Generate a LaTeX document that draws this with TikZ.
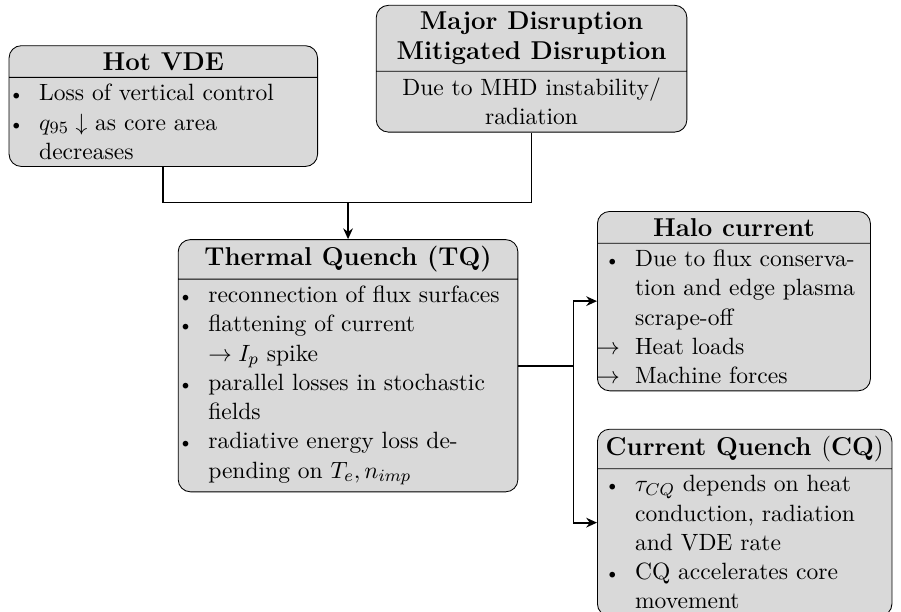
\documentclass[tikz,border=0pt,11pt]{standalone}
\usepackage{amsmath}
\usepackage{enumitem}
\usetikzlibrary{shapes.multipart,arrows.meta}

\hyphenation{de-pending}
% ragged right items that still hyphenate
\setlist[itemize]{nosep, leftmargin=10.5pt, labelsep=7pt, label={\footnotesize\textbullet},
    before={\rightskip=0pt plus 2em\spaceskip=.3333em\relax}}

\newcommand{\boxtext}[2]{\begin{minipage}[t]{#1}#2\end{minipage}}

\begin{document}
\begin{tikzpicture}[thick,
    main/.style = {draw, thin, fill=black!15, rounded corners=2mm,
        rectangle split, rectangle split parts=2,
        inner xsep=3.5pt, inner ysep=3pt, align=center},
    flow/.style = {-{Stealth[length=5pt, width=4.5pt]}}]
    \useasboundingbox (0,0) rectangle (14.73,-10.00);

    %what starts it

    \node[main, anchor=north] (HOTVDE) at (2.67,-0.74)
        {\large\bfseries Hot VDE
         \nodepart{two}\boxtext{136.5pt}{\begin{itemize}
            \item Loss of vertical control
            \item $q_{95}\downarrow$ as core area\newline decreases
         \end{itemize}}};
    \node[main, anchor=north] (MAJOR) at (8.69,-0.08)
        {\large\bfseries Major Disruption\\\large\bfseries Mitigated Disruption
         \nodepart{two}\boxtext{137.5pt}{\centering Due to MHD instability/ radiation}};

    %thermal quench in the middle

    \node[main, anchor=north] (TQ) at (5.69,-3.91)
        {\large\bfseries Thermal Quench (TQ)
         \nodepart{two}\boxtext{151pt}{\begin{itemize}
            \item reconnection of flux surfaces
            \item flattening of current\newline $\rightarrow I_p$ spike
            \item parallel losses in stochastic fields
            \item radiative energy loss depending on $T_e, n_{imp}$
         \end{itemize}}};
    \coordinate (JOIN) at ([yshift=0.6cm]TQ.north);
    \draw (HOTVDE.south) |- (JOIN) -| (MAJOR.south);
    \draw[flow] (JOIN) -- (TQ.north);

    %what follows it

    \node[main, anchor=north west] (HALO) at (9.76,-3.45)
        {\large\bfseries Halo current
         \nodepart{two}\boxtext{120pt}{\begin{itemize}[leftmargin=14pt]
            \item Due to flux conservation and edge plasma scrape-off
            \item[$\rightarrow$] Heat loads
            \item[$\rightarrow$] Machine forces
         \end{itemize}}};
    \node[main, anchor=north west] (CQ) at (9.76,-7.01)
        {\large\bfseries Current Quench $(\mathbf{CQ})$
         \nodepart{two}\boxtext{130pt}{\begin{itemize}[leftmargin=14pt]
            \item $\tau_{CQ}$ depends on heat conduction, radiation and VDE rate
            \item CQ accelerates core movement
         \end{itemize}}};
    \coordinate (FORK) at ([xshift=0.9cm]TQ.east);
    \draw (TQ.east) -- (FORK);
    \draw[flow] (FORK) |- (HALO.west);
    \draw[flow] (FORK) |- (CQ.west);
\end{tikzpicture}
\end{document}
